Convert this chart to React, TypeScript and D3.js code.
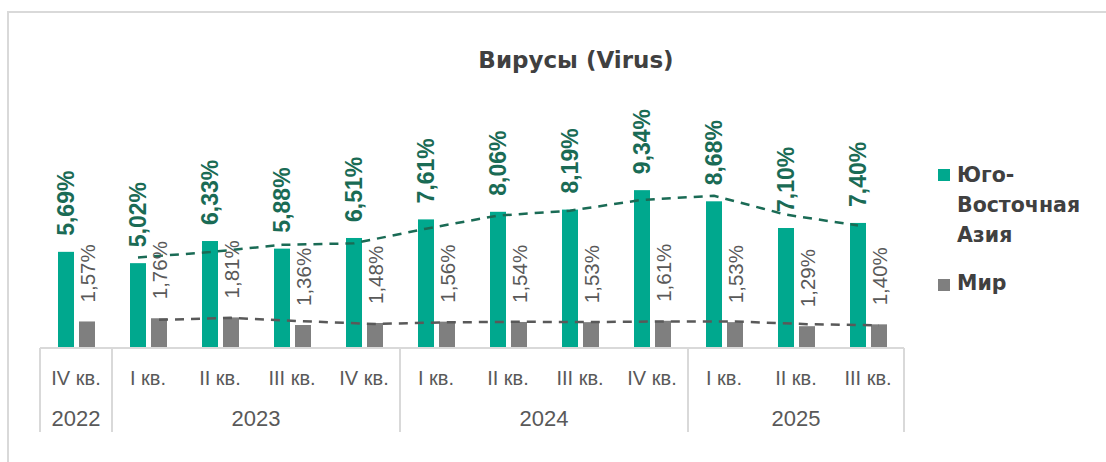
import React from "react";
import * as d3 from "d3";

const quarters = ["IV кв.", "I кв.", "II кв.", "III кв.", "IV кв.", "I кв.", "II кв.", "III кв.", "IV кв.", "I кв.", "II кв.", "III кв."];
const yearLabels = ["2022", "2023", "2024", "2025"];
const yearSpans = [1, 4, 4, 3];
const seaValues = [5.69, 5.02, 6.33, 5.88, 6.51, 7.61, 8.06, 8.19, 9.34, 8.68, 7.10, 7.40];
const worldValues = [1.57, 1.76, 1.81, 1.36, 1.48, 1.56, 1.54, 1.53, 1.61, 1.53, 1.29, 1.40];
const seriesNames = ["Юго-Восточная Азия", "Мир"];

const W = 1106;
const H = 462;
const GREEN = "#00a88e";
const GREEN_DARK = "#1a6b55";
const GRAY = "#7f7f7f";
const TEXT = "#404040";
const AXIS_TEXT = "#595959";
const GRID = "#d9d9d9";

const fmt = (v: number) => d3.format(".2f")(v).replace(".", ",") + "%";

function movingAvg(vals: number[]) {
  return vals.map((v, i) => (i === 0 ? null : (vals[i - 1] + v) / 2));
}

export default function App() {
  const idx = quarters.map((_, i) => i);
  const x = d3.scaleBand<number>().domain(idx).range([40, 904]).padding(0);
  const y = d3.scaleLinear().domain([0, 10]).range([348, 179]);
  const bw = x.bandwidth();
  const barW = 16;
  const gOff = 18;
  const wOff = 39;

  const seaMA = movingAvg(seaValues);
  const worldMA = movingAvg(worldValues);

  const lineGen = d3
    .line<[number, number | null]>()
    .defined((d) => d[1] !== null)
    .x((d) => d[0])
    .y((d) => y(d[1] as number));

  const seaLine = lineGen(seaMA.map((v, i) => [(x(i) as number) + gOff + barW / 2, v]));
  const worldLine = lineGen(worldMA.map((v, i) => [(x(i) as number) + wOff + barW / 2, v]));

  const bounds: number[] = [0];
  yearSpans.forEach((s) => bounds.push(bounds[bounds.length - 1] + s));
  const xAt = (k: number) => (k < quarters.length ? (x(k) as number) : 40 + bw * quarters.length);

  return (
    <svg width={W} height={H} style={{ position: "absolute", left: 0, top: 0, background: "#fff" }}>
      <rect x={8} y={12} width={W + 10} height={H + 10} fill="#fff" stroke={GRID} strokeWidth={2} />
      <text x={576} y={68} textAnchor="middle" fontFamily="DejaVu Sans" fontWeight="bold" fontSize={23} fill={TEXT}>
        Вирусы (Virus)
      </text>

      {seaValues.map((v, i) => (
        <rect key={"g" + i} x={(x(i) as number) + gOff} y={y(v)} width={barW} height={y(0) - y(v)} fill={GREEN} />
      ))}
      {worldValues.map((v, i) => (
        <rect key={"w" + i} x={(x(i) as number) + wOff} y={y(v)} width={barW} height={y(0) - y(v)} fill={GRAY} />
      ))}

      <path d={seaLine || ""} fill="none" stroke={GREEN_DARK} strokeWidth={2.5} strokeDasharray="9,7" />
      <path d={worldLine || ""} fill="none" stroke="#595959" strokeWidth={2.5} strokeDasharray="9,7" />

      {seaValues.map((v, i) => {
        const cx = (x(i) as number) + gOff + barW / 2;
        const cy = y(v) - 16;
        return (
          <text
            key={"gl" + i}
            transform={`translate(${cx},${cy}) rotate(-90)`}
            textAnchor="start"
            dominantBaseline="central"
            fontFamily="Liberation Sans"
            fontWeight="bold"
            fontSize={23}
            fill={GREEN_DARK}
          >
            {fmt(v)}
          </text>
        );
      })}
      {worldValues.map((v, i) => {
        const cx = (x(i) as number) + wOff + barW / 2;
        const cy = y(v) - 19;
        return (
          <text
            key={"wl" + i}
            transform={`translate(${cx},${cy}) rotate(-90)`}
            textAnchor="start"
            dominantBaseline="central"
            fontFamily="Liberation Sans"
            fontSize={20.5}
            fill={AXIS_TEXT}
          >
            {fmt(v)}
          </text>
        );
      })}

      <line x1={40} x2={904} y1={348} y2={348} stroke={GRID} strokeWidth={2} />
      {bounds.map((b, k) => (
        <line key={"sep" + k} x1={xAt(b)} x2={xAt(b)} y1={348} y2={432} stroke={GRID} strokeWidth={2} />
      ))}
      {quarters.map((q, i) => (
        <text
          key={"q" + i}
          x={(x(i) as number) + bw / 2}
          y={378}
          textAnchor="middle"
          dominantBaseline="central"
          fontFamily="Liberation Sans"
          fontSize={20}
          fill={AXIS_TEXT}
        >
          {q}
        </text>
      ))}
      {yearLabels.map((yl, k) => (
        <text
          key={"y" + k}
          x={(xAt(bounds[k]) + xAt(bounds[k + 1])) / 2}
          y={418}
          textAnchor="middle"
          dominantBaseline="central"
          fontFamily="Liberation Sans"
          fontSize={22}
          fill={AXIS_TEXT}
        >
          {yl}
        </text>
      ))}

      <rect x={938} y={169} width={12} height={12} fill={GREEN} />
      <text fontFamily="DejaVu Sans" fontWeight="bold" fontSize={20.5} fill={TEXT}>
        <tspan x={957} y={182}>Юго-</tspan>
        <tspan x={957} y={212}>Восточная</tspan>
        <tspan x={957} y={242}>Азия</tspan>
      </text>
      <rect x={938} y={279} width={12} height={12} fill={GRAY} />
      <text x={957} y={290} fontFamily="DejaVu Sans" fontWeight="bold" fontSize={20.5} fill={TEXT}>
        {seriesNames[1]}
      </text>
    </svg>
  );
}
